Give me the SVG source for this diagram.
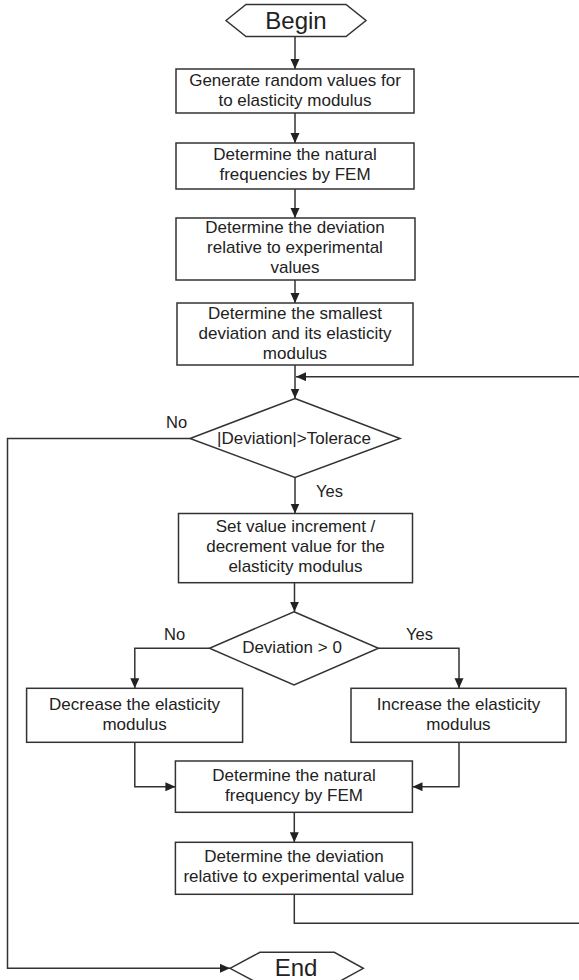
<svg xmlns="http://www.w3.org/2000/svg" width="579" height="980" viewBox="0 0 579 980">
<defs>
<marker id="arr" markerUnits="userSpaceOnUse" markerWidth="11" markerHeight="10" refX="10" refY="4.5" orient="auto">
<path d="M0,0 L10,4.5 L0,9 z" fill="#222"/>
</marker>
<style>
.n{fill:#fff;stroke:#333;stroke-width:1.5}
.t{font-family:"Liberation Sans",Arial,sans-serif;font-size:17px;fill:#222;text-anchor:middle}
.big{font-size:24px}
.lbl{font-family:"Liberation Sans",Arial,sans-serif;font-size:16.5px;fill:#222}
.c{fill:none;stroke:#333;stroke-width:1.5}
.c path{marker-end:url(#arr)}
</style>
</defs>
<rect width="579" height="980" fill="#fff"/>
<g id="connectors" class="c">
<path d="M295,36.5 V69"/>
<path d="M295,113 V143"/>
<path d="M295,189 V218"/>
<path d="M295,280 V303"/>
<path d="M295,365 V398.5"/>
<path d="M294.3,894.3 V923.3 H590 V376.7 H296"/>
<path d="M190,438.5 H7.5 V968.3 H230"/>
<path d="M295,477.5 V513.5"/>
<path d="M294.5,582.7 V611.7"/>
<path d="M209.5,648.3 H134.8 V688.3"/>
<path d="M378.5,648.3 H459 V688.3"/>
<path d="M134.8,742.3 V786.7 H175.4"/>
<path d="M459,742.3 V786.7 H412.5"/>
<path d="M294.3,812.3 V842.3"/>
</g>
<g id="begin">
<polygon class="n" points="226,20.5 246,4.5 346,4.5 366,20.5 346,36.5 246,36.5"/>
<text class="t big" x="296" y="28.5">Begin</text>
</g>
<g id="generate">
<rect class="n" x="176" y="69" width="238" height="44"/>
<text class="t" x="295" y="85.5">Generate random values for</text>
<text class="t" x="295" y="105.5">to elasticity modulus</text>
</g>
<g id="natural1">
<rect class="n" x="176" y="143" width="238" height="46"/>
<text class="t" x="295" y="160">Determine the natural</text>
<text class="t" x="295" y="180">frequencies by FEM</text>
</g>
<g id="deviation1">
<rect class="n" x="176" y="218" width="239" height="62"/>
<text class="t" x="295" y="233">Determine the deviation</text>
<text class="t" x="295" y="253">relative to experimental</text>
<text class="t" x="295" y="273">values</text>
</g>
<g id="smallest">
<rect class="n" x="177" y="303" width="236" height="62"/>
<text class="t" x="295" y="318.5">Determine the smallest</text>
<text class="t" x="295" y="338.5">deviation and its elasticity</text>
<text class="t" x="295" y="359">modulus</text>
</g>
<g id="tolerance">
<polygon class="n" points="295,398.5 400,438.5 295,477.5 190,438.5"/>
<text class="t" x="294" y="444">|Deviation|&gt;Tolerace</text>
<text class="lbl" x="166" y="428">No</text>
<text class="lbl" x="316" y="497">Yes</text>
</g>
<g id="setvalue">
<rect class="n" x="178.5" y="513.5" width="234" height="69.2"/>
<text class="t" x="295.5" y="531.7">Set value increment /</text>
<text class="t" x="295.5" y="551.7">decrement value for the</text>
<text class="t" x="295.5" y="572">elasticity modulus</text>
</g>
<g id="sign">
<polygon class="n" points="294,611.7 378.5,648.3 294,685 209.5,648.3"/>
<text class="t" x="292" y="653">Deviation &gt; 0</text>
<text class="lbl" x="164" y="640">No</text>
<text class="lbl" x="406" y="640">Yes</text>
</g>
<g id="decrease">
<rect class="n" x="26.6" y="688.3" width="216" height="54"/>
<text class="t" x="134.6" y="710">Decrease the elasticity</text>
<text class="t" x="134.6" y="730">modulus</text>
</g>
<g id="increase">
<rect class="n" x="351" y="688.3" width="215" height="54"/>
<text class="t" x="458.5" y="710">Increase the elasticity</text>
<text class="t" x="458.5" y="730">modulus</text>
</g>
<g id="natural2">
<rect class="n" x="175.4" y="761" width="237" height="51.3"/>
<text class="t" x="294" y="781">Determine the natural</text>
<text class="t" x="294" y="801">frequency by FEM</text>
</g>
<g id="deviation2">
<rect class="n" x="175.4" y="842.3" width="237" height="52"/>
<text class="t" x="294" y="862.3">Determine the deviation</text>
<text class="t" x="294" y="882.3">relative to experimental value</text>
</g>
<g id="end">
<polygon class="n" points="230,968.3 260,952.3 334.3,952.3 363.3,968.3 334.3,984.3 260,984.3"/>
<text class="t big" x="296" y="975.5">End</text>
</g>
</svg>
